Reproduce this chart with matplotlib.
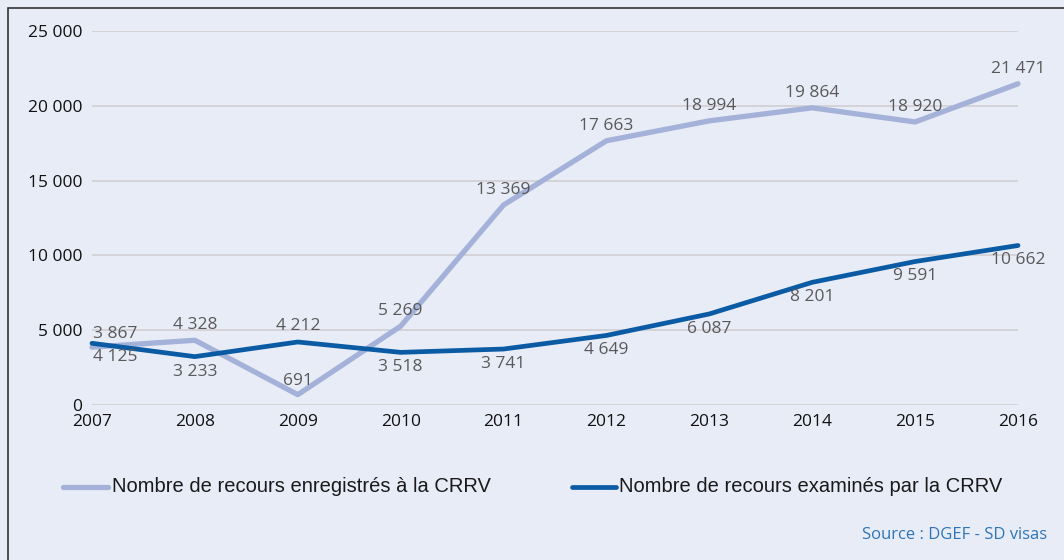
import matplotlib
matplotlib.use("Agg")
import matplotlib.pyplot as plt
from matplotlib.patches import Rectangle
from matplotlib.lines import Line2D

years = [2007, 2008, 2009, 2010, 2011, 2012, 2013, 2014, 2015, 2016]
enregistres = [3867, 4328, 691, 5269, 13369, 17663, 18994, 19864, 18920, 21471]
examines = [4125, 3233, 4212, 3518, 3741, 4649, 6087, 8201, 9591, 10662]
yticks = [0, 5000, 10000, 15000, 20000, 25000]
label_enr = "Nombre de recours enregistrés à la CRRV"
label_exa = "Nombre de recours examinés par la CRRV"
source = "Source : DGEF - SD visas"

def fmt(v):
    return f"{v:,}".replace(",", " ")

W, H = 1064, 560
bg = "#E8ECF7"
light = "#A4B1D8"
dark = "#0B5BA4"
plt.rcParams['font.family'] = ['Open Sans', 'DejaVu Sans']

fig = plt.figure(figsize=(W/100, H/100), dpi=100, facecolor=bg)
fig.patches.append(Rectangle((7.5/W, -0.01), 1.1, (H-7.5)/H + 0.01, transform=fig.transFigure,
                             fill=False, edgecolor="#333333", linewidth=1.2))

x0, x1 = 92, 1018
y0, y1 = 405, 31
ax = fig.add_axes([x0/W, 1 - y0/H, (x1-x0)/W, (y0-y1)/H])
ax.set_facecolor(bg)
ax.set_xlim(2007, 2016)
ax.set_ylim(0, 25000)
for s in ax.spines.values():
    s.set_visible(False)
ax.set_yticks(yticks)
ax.set_yticklabels([fmt(v) for v in yticks], fontsize=12.5, color="#111111")
ax.set_xticks(years)
ax.set_xticklabels([str(y) for y in years], fontsize=12.5, color="#111111")
ax.tick_params(axis='y', length=0, pad=7)
ax.tick_params(axis='x', length=0, pad=6.5)
ax.grid(axis='y', color="#CFCFD2", linewidth=1.2)
ax.set_axisbelow(True)

ax.plot(years, enregistres, color=light, linewidth=3.8, solid_capstyle='round', clip_on=False)
ax.plot(years, examines, color=dark, linewidth=3.4, solid_capstyle='round', clip_on=False)

lab_col = "#595959"
# label offsets (points) relative to each data point
off_enr = {2007: (17, 4), 2009: (0, 4)}
off_exa = {2007: (17, -4), 2009: (0, 6)}
for x, v in zip(years, enregistres):
    dx, dy = off_enr.get(x, (0, 5))
    ax.annotate(fmt(v), (x, v), xytext=(dx, dy), textcoords='offset points',
                ha='center', va='bottom', fontsize=12.5, color=lab_col, annotation_clip=False)
for x, v in zip(years, examines):
    dx, dy = off_exa.get(x, (0, -5))
    ax.annotate(fmt(v), (x, v), xytext=(dx, dy), textcoords='offset points',
                ha='center', va='bottom' if dy > 0 else 'top', fontsize=12.5, color=lab_col,
                annotation_clip=False)

# legend
ly = 1 - 487/H
fig.add_artist(Line2D([63/W, 108/W], [ly, ly], color=light, linewidth=3.8, solid_capstyle='round'))
fig.text(112/W, ly, label_enr, fontsize=14.5, va='center', ha='left', color="#1a1a1a",
         family=['Liberation Sans', 'DejaVu Sans'])
fig.add_artist(Line2D([572/W, 616/W], [ly, ly], color=dark, linewidth=3.4, solid_capstyle='round'))
fig.text(619/W, ly, label_exa, fontsize=14.5, va='center', ha='left', color="#1a1a1a",
         family=['Liberation Sans', 'DejaVu Sans'])

fig.text(1047/W, 1 - 535/H, source, fontsize=12, color="#2E75B6", ha='right', va='center')

fig.savefig("out.png", dpi=100, facecolor=bg)
